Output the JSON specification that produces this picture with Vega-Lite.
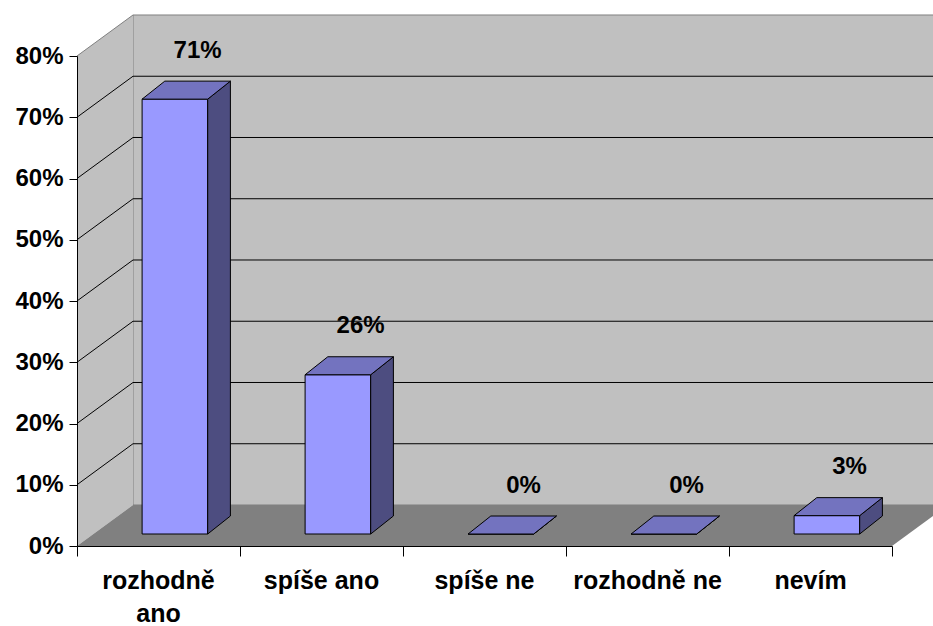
{
  "$schema": "https://vega.github.io/schema/vega-lite/v6.json",
  "width": 815,
  "height": 490,
  "autosize": {"type": "none"},
  "padding": {"left": 77, "top": 56, "right": 41, "bottom": 80},
  "background": "white",
  "config": {"view": {"stroke": null}, "font": "Liberation Sans"},
  "datasets": {
    "answers": [
      {"category": "rozhodně ano", "value": 71},
      {"category": "spíše ano", "value": 26},
      {"category": "spíše ne", "value": 0},
      {"category": "rozhodně ne", "value": 0},
      {"category": "nevím", "value": 3}
    ],
    "corners": [{"k": 0}, {"k": 1}],
    "grid": [{"v": 10}, {"v": 20}, {"v": 30}, {"v": 40}, {"v": 50}, {"v": 60}, {"v": 70}],
    "single": [{"part": "wall"}]
  },
  "layer": [
    {
      "data": {"name": "single"},
      "mark": {"type": "rect", "fill": "#c0c0c0", "stroke": "#808080", "strokeWidth": 1},
      "encoding": {
        "x": {
          "datum": 0.3436, "type": "quantitative",
          "scale": {"domain": [0, 5], "nice": false, "zero": false},
          "axis": {"values": [0, 1, 2, 3, 4, 5], "labels": false, "tickSize": 10, "tickColor": "black", "domainColor": "black", "grid": false, "title": null, "zindex": 1}
        },
        "x2": {"datum": 5.3436},
        "y": {
          "datum": 6.694, "type": "quantitative",
          "scale": {"domain": [0, 80], "nice": false, "zero": false},
          "axis": {"values": [0, 10, 20, 30, 40, 50, 60, 70, 80], "labelExpr": "datum.value + '%'", "labelFont": "Liberation Sans", "labelFontSize": 24, "labelFontWeight": "bold", "labelColor": "black", "labelPadding": 6, "labelFlush": false, "labelOverlap": false, "labelBound": false, "tickSize": 8, "tickColor": "black", "domainColor": "black", "grid": false, "title": null, "zindex": 1}
        },
        "y2": {"datum": 86.694}
      }
    },
    {
      "data": {"name": "corners"},
      "transform": [
        {"calculate": "datum.k * 0.3436", "as": "x"},
        {"calculate": "datum.k * 6.694", "as": "y"},
        {"calculate": "80 + datum.k * 6.694", "as": "y2"}
      ],
      "mark": {"type": "area", "fill": "#c0c0c0", "orient": "vertical"},
      "encoding": {
        "x": {"field": "x", "type": "quantitative"},
        "y": {"field": "y", "type": "quantitative"},
        "y2": {"field": "y2"}
      }
    },
    {
      "data": {"name": "single"},
      "mark": {"type": "rule", "color": "#808080", "strokeWidth": 1},
      "encoding": {
        "x": {"datum": 0, "type": "quantitative"},
        "x2": {"datum": 0.3436},
        "y": {"datum": 80, "type": "quantitative"},
        "y2": {"datum": 86.694}
      }
    },
    {
      "data": {"name": "grid"},
      "transform": [{"calculate": "datum.v + 6.694", "as": "y"}],
      "mark": {"type": "rule", "color": "black", "strokeWidth": 1},
      "encoding": {
        "x": {"datum": 0.3436, "type": "quantitative"},
        "x2": {"datum": 5.3436},
        "y": {"field": "y", "type": "quantitative"}
      }
    },
    {
      "data": {"name": "grid"},
      "transform": [{"calculate": "datum.v + 6.694", "as": "y"}],
      "mark": {"type": "rule", "color": "black", "strokeWidth": 1},
      "encoding": {
        "x": {"datum": 0, "type": "quantitative"},
        "x2": {"datum": 0.3436},
        "y": {"field": "v", "type": "quantitative"},
        "y2": {"field": "y"}
      }
    },
    {
      "data": {"name": "corners"},
      "transform": [
        {"calculate": "datum.k * 6.694", "as": "y"},
        {"calculate": "datum.k * 0.3436", "as": "x"},
        {"calculate": "5 + datum.k * 0.3436", "as": "x2"}
      ],
      "mark": {"type": "area", "fill": "#808080", "orient": "horizontal"},
      "encoding": {
        "y": {"field": "y", "type": "quantitative"},
        "x": {"field": "x", "type": "quantitative"},
        "x2": {"field": "x2"}
      }
    },
    {
      "data": {"name": "answers"},
      "transform": [
        {"window": [{"op": "row_number", "as": "n"}]},
        {"calculate": "datum.n - 0.5", "as": "c"},
        {"calculate": "datum.c - 0.1006", "as": "x"},
        {"calculate": "datum.c + 0.3018", "as": "x2"},
        {"calculate": "1.959", "as": "y"},
        {"calculate": "datum.value + 1.959", "as": "y2"}
      ],
      "mark": {"type": "rect", "fill": "#9999ff", "stroke": "black", "strokeWidth": 1},
      "encoding": {
        "x": {"field": "x", "type": "quantitative"},
        "x2": {"field": "x2"},
        "y": {"field": "y", "type": "quantitative"},
        "y2": {"field": "y2"}
      }
    },
    {
      "data": {"name": "answers"},
      "transform": [
        {"window": [{"op": "row_number", "as": "n"}]},
        {"calculate": "datum.n - 0.5", "as": "c"},
        {"calculate": "[0, 1]", "as": "k"},
        {"flatten": ["k"]},
        {"calculate": "datum.c + 0.3018 + datum.k * 0.1393", "as": "x"},
        {"calculate": "1.959 + datum.k * 2.939", "as": "y"},
        {"calculate": "datum.value + 1.959 + datum.k * 2.939", "as": "y2"}
      ],
      "mark": {"type": "area", "fill": "#4d4d80", "stroke": "black", "strokeWidth": 1, "orient": "vertical"},
      "encoding": {
        "x": {"field": "x", "type": "quantitative"},
        "y": {"field": "y", "type": "quantitative"},
        "y2": {"field": "y2"},
        "detail": {"field": "category"}
      }
    },
    {
      "data": {"name": "answers"},
      "transform": [
        {"window": [{"op": "row_number", "as": "n"}]},
        {"calculate": "datum.n - 0.5", "as": "c"},
        {"calculate": "[0, 1]", "as": "k"},
        {"flatten": ["k"]},
        {"calculate": "datum.value + 1.959 + datum.k * 2.939", "as": "y"},
        {"calculate": "datum.c - 0.1006 + datum.k * 0.1393", "as": "x"},
        {"calculate": "datum.c + 0.3018 + datum.k * 0.1393", "as": "x2"}
      ],
      "mark": {"type": "area", "fill": "#7373bf", "stroke": "black", "strokeWidth": 1, "orient": "horizontal"},
      "encoding": {
        "y": {"field": "y", "type": "quantitative"},
        "x": {"field": "x", "type": "quantitative"},
        "x2": {"field": "x2"},
        "detail": {"field": "category"}
      }
    },
    {
      "data": {"name": "answers"},
      "transform": [
        {"window": [{"op": "row_number", "as": "n"}]},
        {"calculate": "datum.n - 0.5 + 0.24", "as": "x"},
        {"calculate": "datum.value + 8.7", "as": "y"},
        {"calculate": "datum.value + '%'", "as": "lbl"}
      ],
      "mark": {"type": "text", "font": "Liberation Sans", "fontSize": 24, "fontWeight": "bold", "fill": "black", "align": "center", "baseline": "alphabetic"},
      "encoding": {
        "x": {"field": "x", "type": "quantitative"},
        "y": {"field": "y", "type": "quantitative"},
        "text": {"field": "lbl"}
      }
    },
    {
      "data": {"name": "answers"},
      "transform": [
        {"window": [{"op": "row_number", "as": "n"}]},
        {"calculate": "datum.n - 0.5", "as": "x"},
        {"calculate": "length(datum.category) > 11 ? replace(datum.category, ' ', '\\n') : datum.category", "as": "lbl"}
      ],
      "mark": {"type": "text", "font": "Liberation Sans", "fontSize": 25, "fontWeight": "bold", "fill": "black", "align": "center", "baseline": "alphabetic", "dy": 43, "lineHeight": 33, "lineBreak": "\n"},
      "encoding": {
        "x": {"field": "x", "type": "quantitative"},
        "y": {"datum": 0, "type": "quantitative"},
        "text": {"field": "lbl"}
      }
    }
  ]
}
